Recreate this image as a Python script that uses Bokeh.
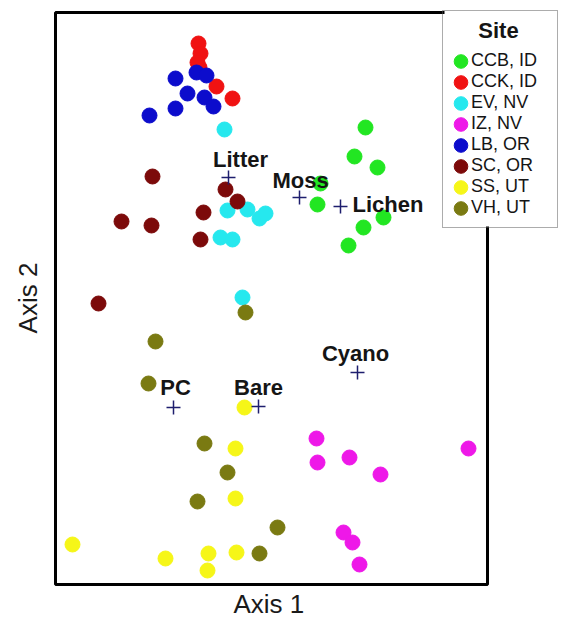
from bokeh.plotting import figure
from bokeh.models import (Range1d, FixedTicker, Legend, LegendItem, ColumnDataSource,
                          BoxAnnotation, Title, Label)
from bokeh.core.properties import value
from bokeh.embed import file_html
from bokeh.resources import INLINE

# ---- data (ordination scores, arbitrary units) ----
sites = ["CCB, ID", "CCK, ID", "EV, NV", "IZ, NV", "LB, OR", "SC, OR", "SS, UT", "VH, UT"]
site_colors = ["#22e622", "#f01212", "#26e8ee", "#ee18e8", "#0c0ccc", "#7c0a0a", "#f6f618", "#7a7a12"]

ccb_x = [310, 299, 322, 265, 262, 328, 308, 293]
ccb_y = [457, 428, 417, 401, 380, 367, 357, 339]
cck_x = [143, 145, 142, 144, 161, 177]
cck_y = [541, 531, 522, 517, 498, 486]
ev_x = [169, 172, 192, 204, 210, 165, 177, 187]
ev_y = [455, 374, 375, 366, 371, 347, 345, 287]
iz_x = [261, 262, 294, 325, 413, 288, 297, 304]
iz_y = [146, 122, 127, 110, 136, 52, 42, 20]
lb_x = [120, 141, 151, 132, 149, 158, 120, 94]
lb_y = [506, 512, 509, 491, 487, 478, 476, 469]
sc_x = [97, 66, 96, 170, 182, 148, 145, 43]
sc_y = [408, 363, 359, 395, 383, 372, 345, 281]
ss_x = [189, 180, 180, 17, 110, 153, 181, 152]
ss_y = [177, 136, 86, 40, 26, 31, 32, 14]
vh_x = [190, 100, 93, 149, 172, 142, 222, 204]
vh_y = [272, 243, 201, 141, 112, 83, 57, 31]

cover_names = ["Litter", "Moss", "Lichen", "PC", "Bare", "Cyano"]
cover_x = [173, 244, 285, 118, 203, 302]
cover_y = [407, 387, 378, 177, 178, 212]

axis1_extent = (0, 432)
axis2_extent = (0, 572)
legend_title = "Site"

site_x = [ccb_x, cck_x, ev_x, iz_x, lb_x, sc_x, ss_x, vh_x]
site_y = [ccb_y, cck_y, ev_y, iz_y, lb_y, sc_y, ss_y, vh_y]

# ---- figure ----
# the frame is widened to the right so the legend (which overlaps the plot box) is not clipped;
# the visible plot box is drawn as a box annotation over the axis extents
p = figure(width=560, height=621, output_backend="svg", toolbar_location=None,
           x_range=Range1d(-2, 504), y_range=Range1d(-2, 575),
           min_border_left=53, min_border_right=1, min_border_top=9, min_border_bottom=35)
p.background_fill_color = "white"
p.border_fill_color = "white"
p.outline_line_color = None
p.grid.visible = False

for ax, bnds in ((p.xaxis, axis1_extent), (p.yaxis, axis2_extent)):
    ax.ticker = FixedTicker(ticks=[])
    ax.bounds = bnds
    ax.axis_line_color = None
    ax.major_tick_line_color = None
    ax.minor_tick_line_color = None
    ax.major_tick_out = 0
    ax.major_tick_in = 0
    ax.major_label_standoff = 0
p.xaxis.visible = False

p.yaxis.axis_label = "Axis 2"
p.yaxis.axis_label_standoff = 11
p.yaxis.axis_label_text_font = "Liberation Sans"
p.yaxis.axis_label_text_font_size = "26px"
p.yaxis.axis_label_text_font_style = "normal"
p.yaxis.axis_label_text_color = "#1a1a1a"

# Axis 1 title, centred under the plot box (not under the widened frame)
xt = Title(text="Axis 1", align="left", offset=180, vertical_align="bottom", standoff=0,
           text_font="Liberation Sans", text_font_size="26px", text_font_style="normal",
           text_color="#1a1a1a")
p.add_layout(xt, "below")

plot_box = BoxAnnotation(left=axis1_extent[0], right=axis1_extent[1],
                         bottom=axis2_extent[0], top=axis2_extent[1],
                         fill_color=None, fill_alpha=0, line_color="black", line_alpha=1.0,
                         line_width=3, level="underlay")
p.add_layout(plot_box)

# white panel behind the legend (covers the plot box corner, as in the original)
legend_box = BoxAnnotation(left=389, right=504, bottom=358, top=575,
                           fill_color="white", fill_alpha=1.0, line_color=None,
                           level="underlay")
p.add_layout(legend_box)

items = []
for name, col, xs, ys in zip(sites, site_colors, site_x, site_y):
    src = ColumnDataSource(dict(x=xs, y=ys))
    r = p.ellipse(x="x", y="y", width=15, height=15, width_units="screen", height_units="screen",
                  source=src, fill_color=col, line_color=col, line_width=1)
    items.append(LegendItem(label=name, renderers=[r]))

csrc = ColumnDataSource(dict(
    x=cover_x, y=cover_y, name=cover_names,
    dx=[12, 1, 12, 2, 0, -2], dy=[-18, -17, -2, -20, -19, -19],
    align=["center", "center", "left", "center", "center", "center"]))
p.scatter(x="x", y="y", source=csrc, marker="cross", size=14, line_color="#1e1e6e", line_width=1.5)
p.text(x="x", y="y", text="name", source=csrc, x_offset="dx", y_offset="dy",
       text_align="align", text_baseline="middle", text_font=value("Liberation Sans"),
       text_font_style="bold", text_font_size="22px", text_color="#151515")

# legend: a blank title row reserves the space; the centred title is drawn as a label
legend = Legend(items=items, location="top_right", title=" ",
                title_text_font="Liberation Sans", title_text_font_size="22px",
                title_text_font_style="bold", title_text_color="#151515", title_standoff=4,
                label_text_font="Liberation Sans", label_text_font_size="18px",
                label_text_color="#151515", label_height=20, label_width=77,
                glyph_height=20, glyph_width=17,
                label_standoff=2, spacing=0, padding=9, margin=1,
                border_line_color="#5a5a5a", border_line_width=1.5,
                background_fill_color="white", background_fill_alpha=0.0)
p.add_layout(legend)

title_lbl = Label(x=443, y=554, text=legend_title, text_align="center", text_baseline="middle",
                  text_font="Liberation Sans", text_font_size="22px", text_font_style="bold",
                  text_color="#151515", level="overlay")
p.add_layout(title_lbl)

open("out.html", "w").write(file_html(p, INLINE))
